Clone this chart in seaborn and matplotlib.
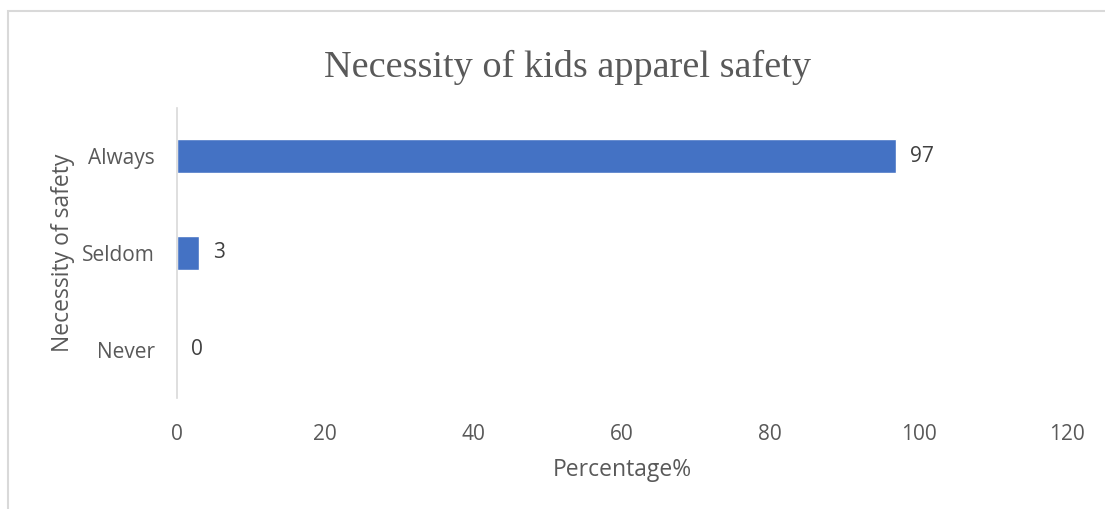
import matplotlib
matplotlib.use("Agg")
import matplotlib.pyplot as plt
import seaborn as sns
import pandas as pd
from matplotlib.patches import Rectangle

categories = ["Always", "Seldom", "Never"]
percentages = [97, 3, 0]
x_ticks = [0, 20, 40, 60, 80, 100, 120]

sns.set_theme(style="white")
plt.rcParams["font.family"] = ["Open Sans", "DejaVu Sans"]

W, H = 1105, 509
fig = plt.figure(figsize=(W / 100, H / 100), dpi=100)
ax = fig.add_axes([177 / W, 1 - 398 / H, (1067 - 177) / W, (398 - 108) / H])

df = pd.DataFrame({"category": categories, "percent": percentages})
sns.barplot(data=df, x="percent", y="category", order=categories,
            color="#4472C4", saturation=1, width=0.35, orient="h", ax=ax)

text_color = "#595959"
ax.bar_label(ax.containers[0], labels=[str(v) for v in percentages],
             padding=10, fontsize=15, color="#404040")

ax.set_xlim(0, 120)
ax.set_ylim(2.5, -0.5)
ax.set_xticks(x_ticks)
ax.set_xticklabels([str(t) for t in x_ticks])
ax.tick_params(axis="both", length=0, labelsize=15, colors=text_color)
ax.tick_params(axis="x", pad=19)
ax.tick_params(axis="y", pad=16)

for side in ["top", "right", "bottom"]:
    ax.spines[side].set_visible(False)
ax.spines["left"].set_color("#d9d9d9")
ax.spines["left"].set_linewidth(1.2)

ax.set_xlabel("Percentage%", fontsize=16.5, color=text_color, labelpad=9)
ax.set_ylabel("Necessity of safety", fontsize=16.5, color=text_color, labelpad=5)

fig.text(567 / W, 1 - 77 / H, "Necessity of kids apparel safety",
         family="Liberation Serif", fontsize=27.5, color="#595959",
         ha="center", va="baseline")

# chart-area frame (extends past the right and bottom edges)
fig.patches.append(Rectangle((8 / W, -0.1), 1.2, 1 - 11 / H + 0.1,
                             transform=fig.transFigure, fill=False,
                             edgecolor="#d9d9d9", linewidth=1.5))

fig.savefig("out.png", dpi=100)
